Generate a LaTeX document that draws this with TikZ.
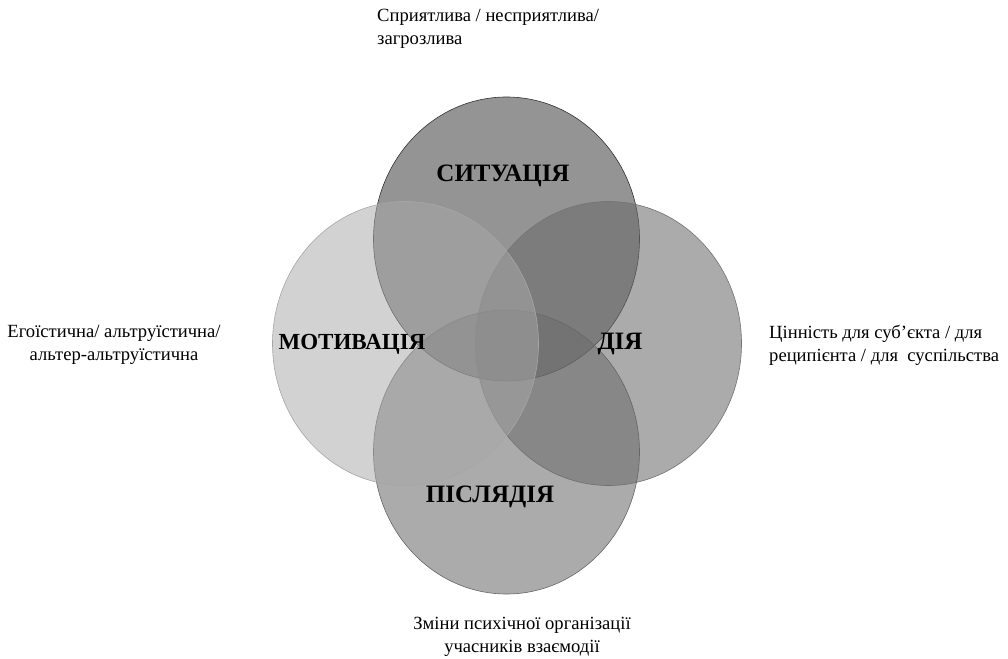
\documentclass[tikz,border=0pt]{standalone}
\usepackage{fontspec}
\setmainfont{Liberation Serif}
\usetikzlibrary{shapes.geometric}

\definecolor{topfill}{gray}{0.25}
\definecolor{rightfill}{gray}{0.42}
\definecolor{botfill}{gray}{0.42}
\definecolor{leftfill}{gray}{0.66}

\tikzset{
  circ/.style={draw, ellipse, inner sep=0pt, minimum width=266pt, minimum height=284pt, line width=0.6pt},
  lbl/.style={font=\fontsize{25}{29}\selectfont\bfseries},
  note/.style={font=\fontsize{18.6}{23}\selectfont, inner sep=0pt}
}

\begin{document}
\begin{tikzpicture}[x=1pt, y=-1pt]
  \useasboundingbox (0,0) rectangle (1008,658);
  % circles
  \node[circ, fill=topfill, fill opacity=0.56, draw=black!80] (sit) at (506.5,239) {};
  \node[circ, fill=rightfill, fill opacity=0.57, draw=black!55] (dia) at (608.5,343.5) {};
  \node[circ, fill=botfill, fill opacity=0.565, draw=black!60] (pisl) at (506.5,452) {};
  \node[circ, fill=leftfill, fill opacity=0.52, draw=black!35] (mot) at (405.5,343.5) {};
  % labels
  \node[lbl] (sitlbl) at (503,176) {СИТУАЦІЯ};
  \node[lbl, font=\fontsize{23}{27}\selectfont\bfseries] (motlbl) at (352,344) {МОТИВАЦІЯ};
  \node[lbl] (dialbl) at (620,344) {ДІЯ};
  \node[lbl] (pisllbl) at (490,497) {ПІСЛЯДІЯ};
  % notes
  \node[note, anchor=west, align=left] (sitnote) at (377,29) {Сприятлива / несприятлива/\\загрозлива};
  \node[note, align=center] (motnote) at (114,345) {Егоїстична/ альтруїстична/\\альтер-альтруїстична};
  \node[note, anchor=west, align=left] (dianote) at (769,345) {Цінність для суб’єкта / для\\реципієнта / для~ суспільства};
  \node[note, align=center] (pislnote) at (522,637) {Зміни психічної організації\\учасників взаємодії};
\end{tikzpicture}
\end{document}
